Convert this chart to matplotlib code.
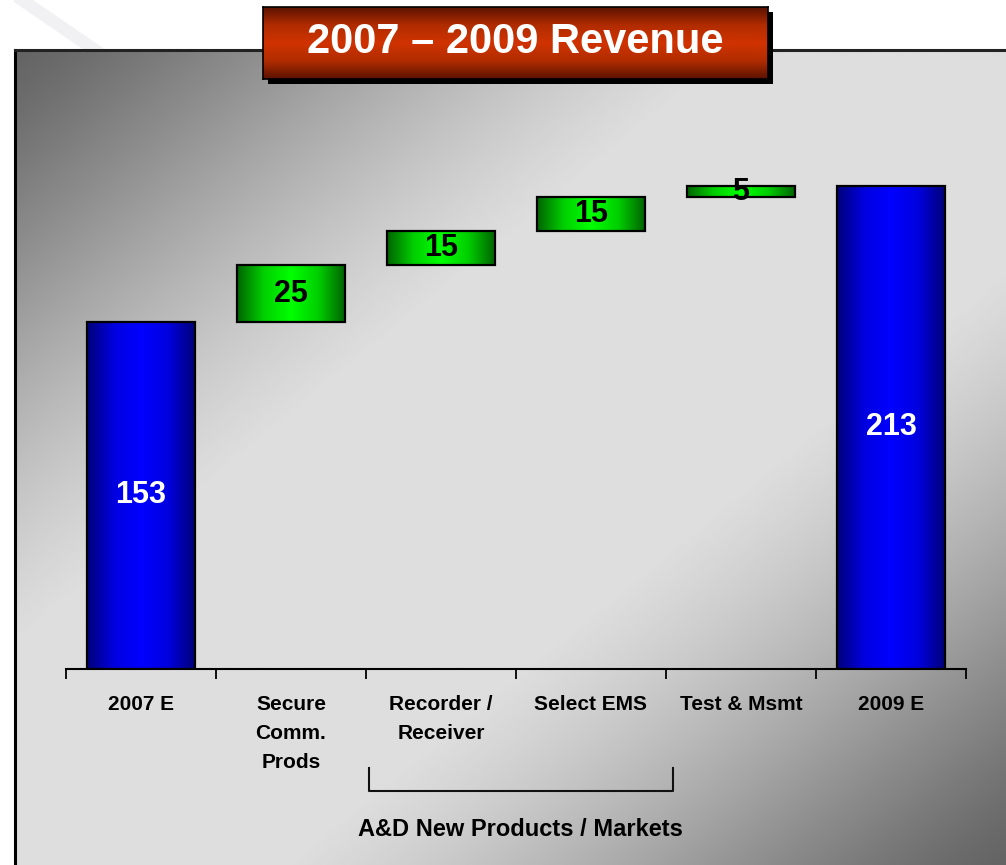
import numpy as np
import matplotlib
matplotlib.use("Agg")
import matplotlib.pyplot as plt
from matplotlib.colors import LinearSegmentedColormap
from matplotlib.patches import Rectangle
from matplotlib.lines import Line2D

plt.rcParams['font.family'] = ['Liberation Sans', 'DejaVu Sans']
plt.rcParams['font.weight'] = 'bold'

# data
categories = ['2007 E', 'Secure\nComm.\nProds', 'Recorder /\nReceiver', 'Select EMS', 'Test & Msmt', '2009 E']
start_value = 153
increments = [25, 15, 15, 5]
end_value = 213
title = '2007 \u2013 2009 Revenue'
group_label = 'A&D New Products / Markets'

W, H = 1006, 865
fig = plt.figure(figsize=(W / 100, H / 100), dpi=100)
fig.patch.set_facecolor('white')

# faint watermark stroke at top-left
fig.add_artist(Line2D([22 / W, 95 / W], [1.0, 1 - 50 / H], color='#ececee', lw=9, alpha=0.7, zorder=0))

# gray panel with diagonal gradient
bg = fig.add_axes([15 / W, 0, 1 - 15 / W, 1 - 50 / H], zorder=0)
yy, xx = np.mgrid[0:1:400j, 0:1:400j]
t = (xx + yy) / 2
shade = 0.39 + (0.87 - 0.39) * np.clip(np.sin(np.pi * t) ** 1.2 * 1.12, 0, 1)
bg.imshow(shade, cmap='gray', vmin=0, vmax=1, extent=[0, 1, 0, 1], aspect='auto', origin='upper')
bg.set_xlim(0, 1)
bg.set_ylim(0, 1)
bg.set_xticks([])
bg.set_yticks([])
for s in ['right', 'bottom']:
    bg.spines[s].set_visible(False)
bg.spines['left'].set_linewidth(2.2)
bg.spines['top'].set_linewidth(2.2)
bg.spines['top'].set_color('#222222')

# main chart axes
ymax = 250
ax = fig.add_axes([66 / W, (H - 669) / H, 900 / W, ymax * 2.268 / H], zorder=1)
ax.patch.set_visible(False)

x = np.arange(len(categories))
bottoms = [0] + list(np.cumsum([start_value] + increments[:-1])) + [0]
heights = [start_value] + increments + [end_value]
colors = ['blue'] + ['green'] * len(increments) + ['blue']

bars = ax.bar(x, heights, bottom=bottoms, width=0.72, facecolor='none',
              edgecolor='black', linewidth=1.6, zorder=3)

blue_cm = LinearSegmentedColormap.from_list('b', ['#00007a', '#0000e0', '#0000ff', '#0000e0', '#00007a'])
green_cm = LinearSegmentedColormap.from_list('g', ['#006400', '#00d000', '#00ff00', '#00d000', '#006400'])
grad = np.linspace(0, 1, 256).reshape(1, -1)
for b, c in zip(bars, colors):
    x0, y0 = b.get_x(), b.get_y()
    im = ax.imshow(grad, cmap=blue_cm if c == 'blue' else green_cm, aspect='auto',
                   extent=[x0, x0 + b.get_width(), y0, y0 + b.get_height()], zorder=2)
    im.set_clip_path(b)

ax.set_xlim(-0.5, len(categories) - 0.5)
ax.set_ylim(0, ymax)

for i, (b, h, c) in enumerate(zip(bottoms, heights, colors)):
    ax.text(i, b + h / 2, str(h), ha='center', va='center', fontsize=22, fontweight='bold',
            color='white' if c == 'blue' else 'black', zorder=4)

for s in ['left', 'right', 'top']:
    ax.spines[s].set_visible(False)
ax.spines['bottom'].set_linewidth(1.5)
ax.set_yticks([])
ax.set_xticks(x)
ax.set_xticklabels(categories, fontsize=15, fontweight='bold', linespacing=1.65, va='top')
ax.tick_params(axis='x', which='major', length=0, pad=19)
ax.set_xticks(np.arange(len(categories) + 1) - 0.5, minor=True)
ax.tick_params(axis='x', which='minor', length=7, width=1.3, direction='out')

# bracket under the new product group
bx0, bx1 = 369 / W, 673 / W
by0, by1 = 1 - 768 / H, 1 - 791 / H
fig.add_artist(Line2D([bx0, bx0, bx1, bx1], [by0, by1, by1, by0], color='#111111', lw=1.5, zorder=3))
fig.text(520 / W, 1 - 829 / H, group_label, ha='center', va='center', fontsize=17, fontweight='bold', zorder=3)

# title box with shadow
tx0, ty0, tw, th = 263 / W, 1 - 79 / H, 505 / W, 72 / H
fig.add_artist(Rectangle((tx0 + 5 / W, ty0 - 5 / H), tw, th, transform=fig.transFigure,
                         facecolor='black', edgecolor='none', zorder=5))
tax = fig.add_axes([tx0, ty0, tw, th], zorder=6)
red_cm = LinearSegmentedColormap.from_list('r', ['#5a1200', '#b02c00', '#d03300', '#b02c00', '#5a1200'])
tax.imshow(np.linspace(0, 1, 256).reshape(-1, 1), cmap=red_cm, aspect='auto', extent=[0, 1, 0, 1])
tax.set_xticks([])
tax.set_yticks([])
for s in tax.spines.values():
    s.set_linewidth(1.2)
tax.text(0.5, 0.52, title, ha='center', va='center', color='white', fontsize=30,
         fontweight='bold', transform=tax.transAxes)

fig.savefig('out.png', dpi=100)
